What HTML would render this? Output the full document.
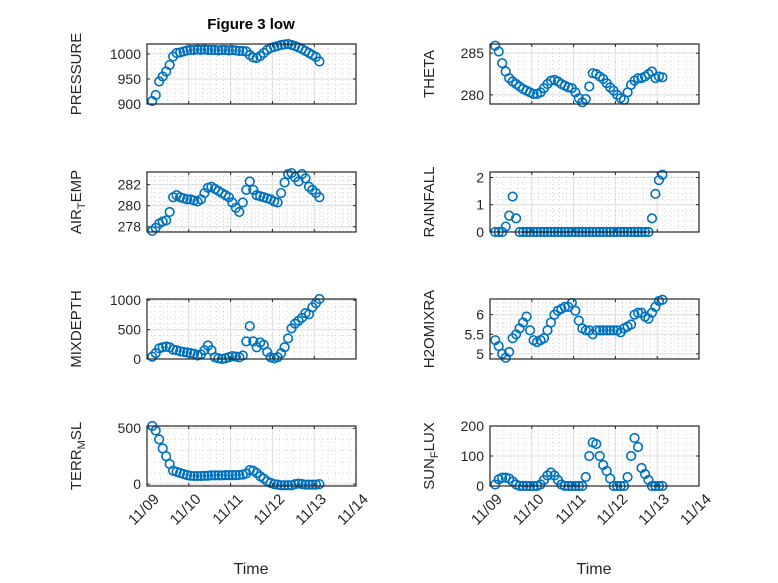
<!DOCTYPE html>
<html><head><meta charset="utf-8"><style>
body{margin:0;background:#fff}
svg{display:block;font-family:"Liberation Sans",sans-serif}
</style></head><body>
<svg id="fig" width="778" height="583" viewBox="0 0 778 583" xmlns="http://www.w3.org/2000/svg">
<rect width="778" height="583" fill="#fff"/>
<text x="251" y="29" font-size="15" font-weight="bold" text-anchor="middle" fill="#000">Figure 3 low</text>
<text x="251" y="574" font-size="16" text-anchor="middle" fill="#262626">Time</text>
<text x="594" y="574" font-size="16" text-anchor="middle" fill="#262626">Time</text>
</svg>
<script>
const hours=[3,5,7,9,11,13,15,17,19,21,23,25,27,29,31,33,35,37,39,41,43,45,47,49,51,53,55,57,59,61,63,65,67,69,71,73,75,77,79,81,83,85,87,89,91,93,95,97,99];
const pressure=[906,918,945,955,965,978,995,1002,1003,1005,1007,1008,1008,1009,1008,1009,1008,1008,1008,1007,1008,1008,1007,1008,1007,1006,1006,1005,998,993,992,996,1002,1008,1012,1014,1016,1018,1019,1020,1018,1016,1013,1010,1006,1002,998,994,985];
const theta=[285.9,285.2,283.8,282.8,282.0,281.6,281.3,281.0,280.7,280.5,280.3,280.1,280.1,280.3,280.8,281.3,281.7,281.8,281.6,281.3,281.1,280.9,280.8,280.3,279.6,279.1,279.5,281.0,282.6,282.5,282.2,281.9,281.4,280.9,280.5,280.0,279.6,279.4,280.3,281.2,281.7,282.0,282.0,282.2,282.5,282.8,282.0,282.2,282.1];
const airTemp=[277.6,277.9,278.3,278.5,278.6,279.4,280.8,281.0,280.8,280.7,280.6,280.6,280.5,280.4,280.6,281.2,281.7,281.8,281.6,281.4,281.2,281.0,280.8,280.3,279.8,279.4,280.3,281.5,282.3,281.5,281.0,280.9,280.8,280.7,280.6,280.4,280.3,281.2,282.2,283.0,283.1,282.7,282.3,283.0,282.6,281.8,281.5,281.2,280.8];
const rainfall=[0,0,0,0.2,0.6,1.3,0.5,0,0,0,0,0,0,0,0,0,0,0,0,0,0,0,0,0,0,0,0,0,0,0,0,0,0,0,0,0,0,0,0,0,0,0,0,0,0,0.5,1.4,1.9,2.1];
const mixDepth=[40,100,180,200,210,200,160,150,130,120,110,100,90,60,80,150,230,150,30,10,0,10,30,50,40,30,60,300,560,300,200,280,240,120,30,10,30,100,200,350,520,600,650,700,780,760,880,950,1020];
const h2oMix=[5.35,5.2,5.0,4.9,5.05,5.4,5.5,5.65,5.8,5.95,5.6,5.35,5.3,5.35,5.4,5.6,5.8,6.0,6.1,6.15,6.2,6.2,6.3,6.1,5.85,5.65,5.6,5.6,5.5,5.6,5.6,5.6,5.6,5.6,5.6,5.6,5.55,5.65,5.7,5.75,6.0,6.05,6.05,5.95,5.9,6.05,6.2,6.35,6.38];
const terrMsl=[520,480,400,320,250,180,120,110,100,90,80,75,72,72,72,74,75,78,78,78,78,80,80,80,80,82,85,95,125,120,100,70,50,25,10,0,-5,-10,-10,-10,-10,0,5,0,-5,-5,-5,-5,0];
const sunFlux=[5,22,28,28,25,15,5,0,0,0,0,0,0,5,20,35,45,35,20,5,0,0,0,0,0,0,30,100,145,140,100,70,50,25,0,0,0,0,30,100,160,130,60,40,20,0,0,0,0];
const xTickLabels=['11/09','11/10','11/11','11/12','11/13','11/14'];
const pressureTicks=[900,950,1000], thetaTicks=[280,285], airTicks=[278,280,282], rainTicks=[0,1,2], mixTicks=[0,500,1000], h2oTicks=[5,5.5,6], terrTicks=[0,500], sunTicks=[0,100,200];

const NS='http://www.w3.org/2000/svg';
const svg=document.getElementById('fig');
function mk(tag,attrs,parent){const e=document.createElementNS(NS,tag);for(const k in attrs)e.setAttribute(k,attrs[k]);(parent||svg).appendChild(e);return e;}

const panels=[
 {name:'pressure',x:147,y:44,vals:pressure,lo:900,hi:1020,ticks:pressureTicks,label:['PRESSURE']},
 {name:'theta',x:490,y:44,vals:theta,lo:278.9,hi:286.1,ticks:thetaTicks,label:['THETA']},
 {name:'air-temp',x:147,y:172,vals:airTemp,lo:277.5,hi:283.2,ticks:airTicks,label:['AIR','T','EMP']},
 {name:'rainfall',x:490,y:172,vals:rainfall,lo:0,hi:2.2,ticks:rainTicks,label:['RAINFALL']},
 {name:'mixdepth',x:147,y:299,vals:mixDepth,lo:0,hi:1020,ticks:mixTicks,label:['MIXDEPTH']},
 {name:'h2omixra',x:490,y:299,vals:h2oMix,lo:4.87,hi:6.4,ticks:h2oTicks,label:['H2OMIXRA']},
 {name:'terr-msl',x:147,y:426,vals:terrMsl,lo:-17,hi:520,ticks:terrTicks,label:['TERR','M','SL']},
 {name:'sun-flux',x:490,y:426,vals:sunFlux,lo:0,hi:200,ticks:sunTicks,label:['SUN','F','LUX']}
];
const W=209,H=60,DAYS=5;
panels.forEach((p,i)=>{
 const g=mk('g',{});
 
 
 const xs=h=>p.x+h/24/DAYS*W;
 const ys=v=>p.y+H-(v-p.lo)/(p.hi-p.lo)*H;
 for(let k=1;k<DAYS*6;k++){if(k%6===0)continue;const x=p.x+k/6/DAYS*W;
  mk('line',{x1:x,x2:x,y1:p.y,y2:p.y+H,stroke:'#bbb','stroke-width':0.6,'stroke-dasharray':'1 3'},g);}
 const step=p.ticks[1]-p.ticks[0];
 for(let v=p.ticks[0]-step;v<=p.hi+1e-9;v+=step/5){if(v<p.lo)continue;const y=ys(v);
  mk('line',{x1:p.x,x2:p.x+W,y1:y,y2:y,stroke:'#bbb','stroke-width':0.6,'stroke-dasharray':'1 3'},g);}
 for(let d=1;d<DAYS;d++){const x=p.x+d/DAYS*W;mk('line',{x1:x,x2:x,y1:p.y,y2:p.y+H,stroke:'#dcdcdc','stroke-width':1},g);}
 p.ticks.forEach(v=>{const y=ys(v);
  mk('line',{x1:p.x,x2:p.x+W,y1:y,y2:y,stroke:'#dcdcdc','stroke-width':1},g);
  mk('line',{x1:p.x,x2:p.x+3,y1:y,y2:y,stroke:'#262626'},g);
  mk('line',{x1:p.x+W-3,x2:p.x+W,y1:y,y2:y,stroke:'#262626'},g);
  const t=mk('text',{x:p.x-6,y:y+5,'font-size':14,'text-anchor':'end',fill:'#262626'},g);
  
  
  t.textContent=String(v);
 });
 for(let d=0;d<=DAYS;d++){const x=p.x+d/DAYS*W;
  mk('line',{x1:x,x2:x,y1:p.y+H-3,y2:p.y+H,stroke:'#262626'},g);
  mk('line',{x1:x,x2:x,y1:p.y,y2:p.y+3,stroke:'#262626'},g);}
 hours.forEach((h,j)=>{
  const c=mk('circle',{cx:xs(h),cy:ys(p.vals[j]),r:4.3,fill:'none',stroke:'#0072BD','stroke-width':1.6},g);
  
  
 });
 mk('rect',{x:p.x,y:p.y,width:W,height:H,fill:'none',stroke:'#262626','stroke-width':1.2},g);
 const lx=(i%2===0)?p.x-66:p.x-56, ly=p.y+H/2;
 const lab=mk('text',{x:lx,y:ly,'font-size':15,'text-anchor':'middle',fill:'#262626',transform:`rotate(-90 ${lx} ${ly})`},g);
 
 
 if(p.label.length===1){lab.textContent=p.label[0];}
 else{const a=mk('tspan',{},lab);a.textContent=p.label[0];
  const b=mk('tspan',{dy:4,'font-size':11},lab);b.textContent=p.label[1];
  const c=mk('tspan',{dy:-4},lab);c.textContent=p.label[2];}
 if(i>=6){
  xTickLabels.forEach((s,d)=>{const x=p.x+d/DAYS*W+13,y=p.y+H+14;
   const t=mk('text',{x:x,y:y,'font-size':15,'text-anchor':'end',fill:'#262626',transform:`rotate(-45 ${x} ${y})`},g);
   
   
   t.textContent=s;});
 }
});
</script>
</body></html>
